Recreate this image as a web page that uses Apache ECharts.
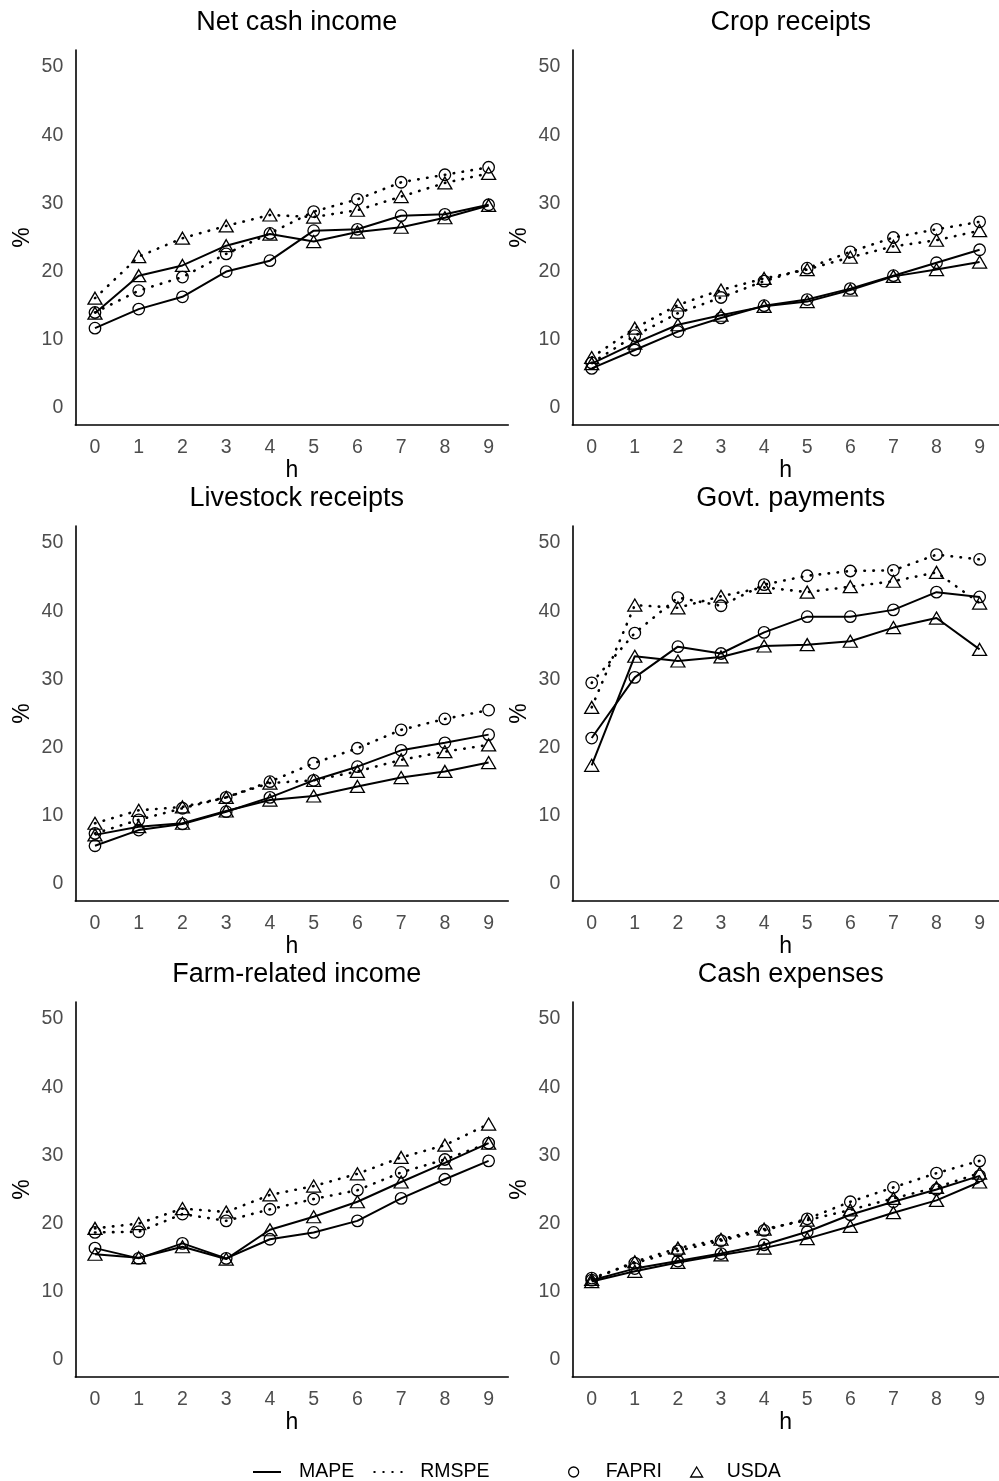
<!DOCTYPE html>
<html><head><meta charset="utf-8">
<script src="https://cdn.jsdelivr.net/npm/echarts@6/dist/echarts.min.js"></script>
<style>html,body{margin:0;padding:0;background:#fff}#c{width:999px;height:1481px}</style>
</head><body><div id="c"></div>
<script>
// ---- categories / ticks ----
const hValues = [0, 1, 2, 3, 4, 5, 6, 7, 8, 9];
const yTickValues = [0, 10, 20, 30, 40, 50];
const panelTitles = ['Net cash income', 'Crop receipts', 'Livestock receipts', 'Govt. payments', 'Farm-related income', 'Cash expenses'];

// ---- Net cash income ----
const netFapriMape  = [11.7, 14.5, 16.3, 20.0, 21.6, 26.0, 26.2, 28.2, 28.4, 29.8];
const netUsdaMape   = [13.9, 19.4, 20.9, 23.8, 25.5, 24.4, 25.8, 26.5, 27.9, 29.7];
const netFapriRmspe = [14.0, 17.2, 19.2, 22.6, 25.6, 28.8, 30.6, 33.1, 34.2, 35.3];
const netUsdaRmspe  = [16.1, 22.2, 24.9, 26.7, 28.3, 28.0, 29.0, 31.0, 33.0, 34.4];
// ---- Crop receipts ----
const cropFapriMape  = [5.8, 8.5, 11.2, 13.2, 15.0, 15.9, 17.5, 19.4, 21.3, 23.2];
const cropUsdaMape   = [6.5, 9.5, 12.2, 13.6, 14.9, 15.6, 17.3, 19.3, 20.3, 21.4];
const cropFapriRmspe = [6.6, 10.6, 13.9, 16.2, 18.6, 20.5, 22.9, 25.0, 26.2, 27.3];
const cropUsdaRmspe  = [7.4, 11.7, 15.1, 17.3, 19.0, 20.3, 22.1, 23.7, 24.6, 26.0];
// ---- Livestock receipts ----
const liveFapriMape  = [5.6, 7.9, 8.8, 10.6, 12.7, 15.2, 17.2, 19.6, 20.7, 21.9];
const liveUsdaMape   = [7.2, 8.4, 8.9, 10.7, 12.3, 12.9, 14.3, 15.6, 16.5, 17.8];
const liveFapriRmspe = [7.4, 9.4, 11.1, 12.7, 15.0, 17.7, 19.9, 22.6, 24.2, 25.5];
const liveUsdaRmspe  = [8.9, 10.8, 11.3, 12.7, 14.8, 15.2, 16.5, 18.2, 19.4, 20.4];
// ---- Govt. payments ----
const govFapriMape  = [21.4, 30.3, 34.8, 33.8, 36.9, 39.2, 39.2, 40.2, 42.8, 42.1];
const govUsdaMape   = [17.4, 33.4, 32.7, 33.3, 34.9, 35.1, 35.6, 37.6, 39.0, 34.4];
const govFapriRmspe = [29.5, 36.8, 42.0, 40.8, 43.9, 45.2, 45.9, 46.0, 48.3, 47.6];
const govUsdaRmspe  = [25.9, 40.9, 40.5, 42.2, 43.5, 42.8, 43.6, 44.4, 45.7, 41.2];
// ---- Farm-related income ----
const farmFapriMape  = [16.4, 14.9, 17.1, 14.9, 17.7, 18.7, 20.4, 23.7, 26.5, 29.2];
const farmUsdaMape   = [15.5, 15.0, 16.6, 14.8, 19.1, 21.0, 23.2, 26.1, 28.9, 31.8];
const farmFapriRmspe = [18.7, 18.8, 21.4, 20.4, 22.1, 23.6, 24.9, 27.5, 29.4, 31.8];
const farmUsdaRmspe  = [19.3, 20.0, 22.2, 21.7, 24.2, 25.5, 27.3, 29.7, 31.5, 34.6];
// ---- Cash expenses ----
const cashFapriMape  = [11.7, 13.4, 14.5, 15.6, 16.9, 18.8, 21.3, 23.2, 25.0, 27.0];
const cashUsdaMape   = [11.5, 13.0, 14.3, 15.4, 16.4, 17.8, 19.6, 21.6, 23.4, 26.1];
const cashFapriRmspe = [12.0, 14.2, 16.0, 17.5, 19.0, 20.7, 23.2, 25.3, 27.4, 29.2];
const cashUsdaRmspe  = [11.8, 14.4, 16.4, 17.7, 19.2, 20.5, 22.0, 23.7, 25.3, 27.4];

const panelData = [
  [netFapriMape, netUsdaMape, netFapriRmspe, netUsdaRmspe],
  [cropFapriMape, cropUsdaMape, cropFapriRmspe, cropUsdaRmspe],
  [liveFapriMape, liveUsdaMape, liveFapriRmspe, liveUsdaRmspe],
  [govFapriMape, govUsdaMape, govFapriRmspe, govUsdaRmspe],
  [farmFapriMape, farmUsdaMape, farmFapriRmspe, farmUsdaRmspe],
  [cashFapriMape, cashUsdaMape, cashFapriRmspe, cashUsdaRmspe]
];

const FONT = 'Liberation Sans, Arial, Helvetica, sans-serif';
const TICKCOL = '#4D4D4D';
const rowTops = [50, 526, 1002];
const titleTops = [4, 480, 956];
const colLeft = [75.3, 572.3];
const plotW = 433;
const plotH = 375;

const grids = [], xAxes = [], yAxes = [], titles = [], series = [];
const solid = {color: '#000', width: 2, type: 'solid'};
const dotted = {color: '#000', width: 2.6, type: [0.5, 8.5], cap: 'round'};
const circleStyle = {color: 'rgba(0,0,0,0)', borderColor: '#000', borderWidth: 1.3};

for (let i = 0; i < 6; i++) {
  const r = Math.floor(i / 2), c = i % 2;
  const left = colLeft[c];
  grids.push({left: left, top: rowTops[r], width: plotW, height: plotH, containLabel: false});
  titles.push({
    text: panelTitles[i], left: left + plotW / 2 - (c === 1 ? 3 : 0), top: titleTops[r], textAlign: 'center',
    textStyle: {fontFamily: FONT, fontSize: 27, fontWeight: 'normal', color: '#000'}
  });
  xAxes.push({
    gridIndex: i, type: 'value', min: -0.45, max: 9.45,
    name: 'h', nameLocation: 'middle', nameGap: 33,
    nameTextStyle: {fontFamily: FONT, fontSize: 23, color: '#000'},
    axisLine: {show: true, onZero: false, lineStyle: {color: '#000', width: 1.6}},
    axisTick: {show: false},
    splitLine: {show: false},
    axisLabel: {customValues: hValues, formatter: v => String(v), margin: 13, fontFamily: FONT, fontSize: 19.5, color: TICKCOL}
  });
  yAxes.push({
    gridIndex: i, type: 'value', min: -2.5, max: 52.5,
    name: '%', nameLocation: 'middle', nameGap: 41, nameRotate: 90,
    nameTextStyle: {fontFamily: FONT, fontSize: 23, color: '#000'},
    axisLine: {show: true, onZero: false, lineStyle: {color: '#000', width: 1.6}},
    axisTick: {show: false},
    splitLine: {show: false},
    axisLabel: {customValues: yTickValues, formatter: v => String(v), margin: 12, fontFamily: FONT, fontSize: 19.5, color: TICKCOL}
  });
  const d = panelData[i];
  const defs = [
    {arr: d[0], line: solid, sym: 'circle', size: 11.5},
    {arr: d[1], line: solid, sym: 'triangle', size: [14, 12]},
    {arr: d[2], line: dotted, sym: 'circle', size: 11.5},
    {arr: d[3], line: dotted, sym: 'triangle', size: [14, 12]}
  ];
  defs.forEach(s => {
    series.push({
      type: 'line', xAxisIndex: i, yAxisIndex: i,
      data: hValues.map((h, j) => [h, s.arr[j]]),
      symbol: s.sym, symbolSize: s.size, showSymbol: true,
      lineStyle: s.line, itemStyle: circleStyle,
      emphasis: {disabled: true}, silent: true, z: 2
    });
  });
}

// dummy series for legend keys
series.push({name: 'MAPE', type: 'line', xAxisIndex: 0, yAxisIndex: 0, data: [], symbol: 'none', lineStyle: solid, itemStyle: {color: '#000'}});
series.push({name: 'RMSPE', type: 'line', xAxisIndex: 0, yAxisIndex: 0, data: [], symbol: 'none', lineStyle: dotted, itemStyle: {color: '#000'}});
series.push({name: 'FAPRI', type: 'line', xAxisIndex: 0, yAxisIndex: 0, data: [], symbol: 'circle', itemStyle: circleStyle, lineStyle: {width: 0}});
series.push({name: 'USDA', type: 'line', xAxisIndex: 0, yAxisIndex: 0, data: [], symbol: 'triangle', itemStyle: circleStyle, lineStyle: {width: 0}});

const legendText = {fontFamily: FONT, fontSize: 19.5, color: '#000'};
const option = {
  animation: false,
  backgroundColor: '#fff',
  title: titles,
  grid: grids,
  xAxis: xAxes,
  yAxis: yAxes,
  legend: [
    {
      left: 247, top: 1457, orient: 'horizontal', itemWidth: 28, itemHeight: 14, itemGap: 19,
      selectedMode: false,
      textStyle: Object.assign({padding: [0, 0, 0, 13]}, legendText),
      data: [
        {name: 'MAPE', itemStyle: {opacity: 0}},
        {name: 'RMSPE', itemStyle: {opacity: 0}}
      ]
    },
    {
      left: 563, top: 1457, orient: 'horizontal', itemWidth: 12, itemHeight: 10, itemGap: 28,
      selectedMode: false,
      textStyle: legendText,
      data: [
        {name: 'FAPRI', icon: 'circle', itemStyle: {color: 'rgba(0,0,0,0)', borderColor: '#000', borderWidth: 1.3}, textStyle: {padding: [0, 0, 0, 21]}},
        {name: 'USDA', icon: 'triangle', itemStyle: {color: 'rgba(0,0,0,0)', borderColor: '#000', borderWidth: 1.3}, textStyle: {padding: [0, 0, 0, 19]}}
      ]
    }
  ],
  series: series
};

const chart = echarts.init(document.getElementById('c'), null, {renderer: 'canvas', width: 999, height: 1481});
chart.setOption(option);
</script>
</body></html>
